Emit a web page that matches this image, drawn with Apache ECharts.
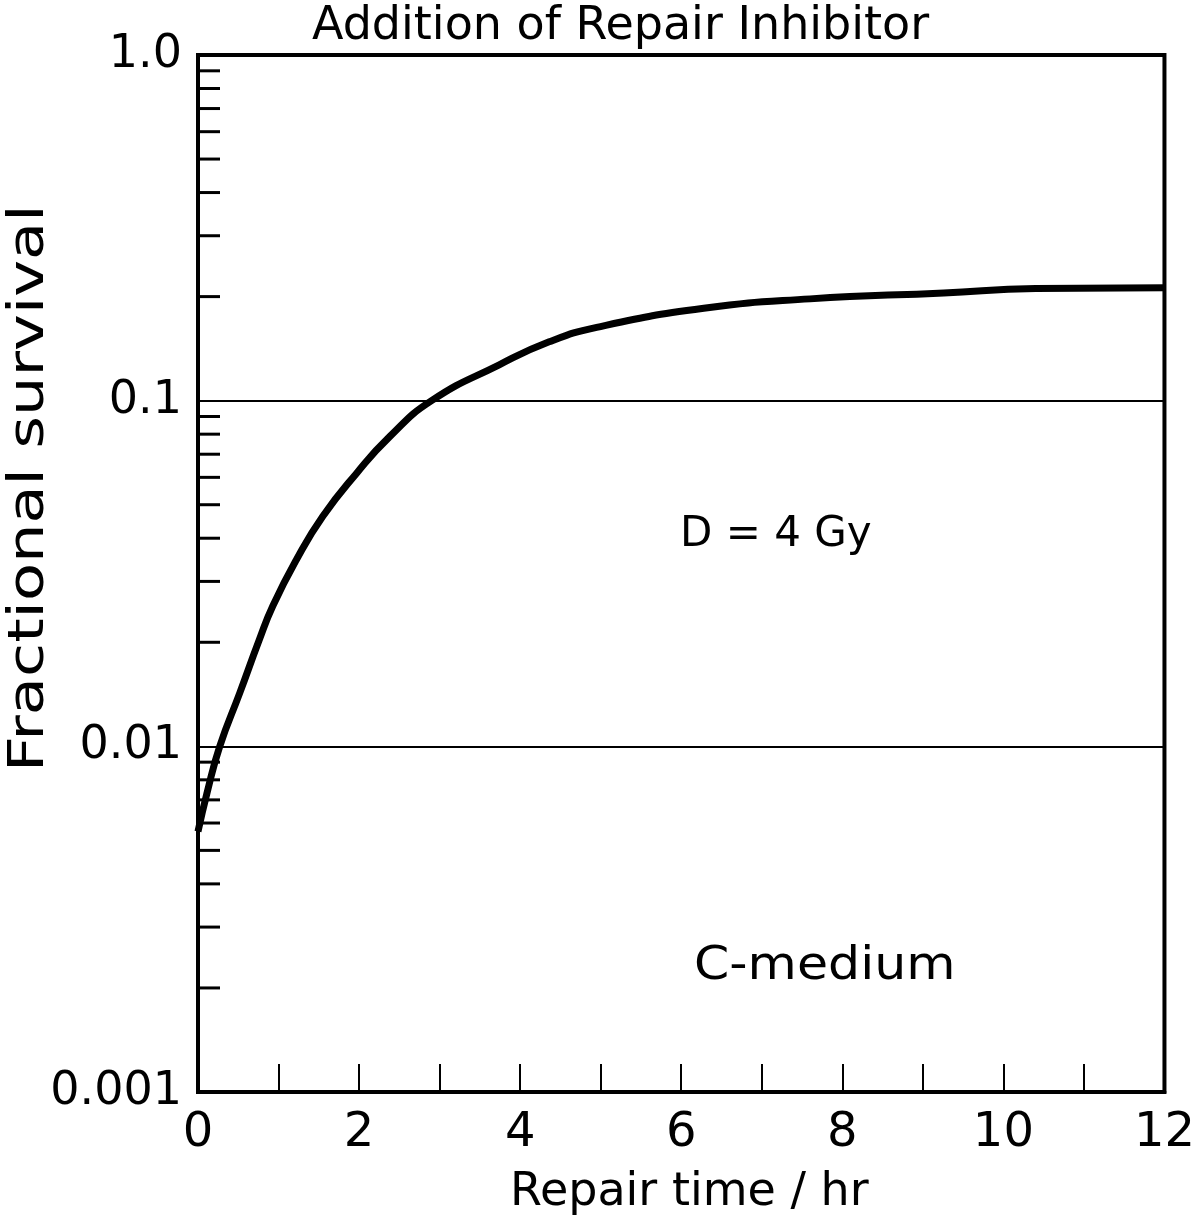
<!DOCTYPE html>
<html>
<head>
<meta charset="utf-8">
<script src="https://cdn.jsdelivr.net/npm/echarts@6/dist/echarts.min.js"></script>
<style>
  html, body { margin: 0; background: #fff; }
  #chart { width: 1198px; height: 1226px; }
</style>
</head>
<body>
<div id="chart"></div>
<script>
// values
var repairTime = [0, 0.11, 0.27, 0.52, 0.76, 0.93, 1.22, 1.55, 1.97, 2.38, 2.9, 3.74, 4.36, 4.95, 6.28, 7.6, 9.26, 10.4, 12];
var survival = [0.00567, 0.0073, 0.01, 0.0143, 0.0203, 0.0255, 0.0346, 0.0463, 0.0617, 0.0787, 0.1, 0.127, 0.148, 0.163, 0.185, 0.197, 0.205, 0.211, 0.212];

// minor ticks on the log axis (2..9 of each decade)
var minorTicks = [
    0.002, 0.003, 0.004, 0.005, 0.006, 0.007, 0.008, 0.009,
    0.02, 0.03, 0.04, 0.05, 0.06, 0.07, 0.08, 0.09,
    0.2, 0.3, 0.4, 0.5, 0.6, 0.7, 0.8, 0.9
];
var yTickLabels = ['0.001', '0.01', '0.1', '1.0'];
var xTickLabels = ['0', '', '2', '', '4', '', '6', '', '8', '', '10', '', '12'];

var FONT = 'DejaVu Sans';

var chart = echarts.init(document.getElementById('chart'));

var curveData = [];
for (var i = 0; i < repairTime.length; i++) {
    curveData.push([repairTime[i], survival[i]]);
}

var option = {
    backgroundColor: '#fff',
    animation: false,
    grid: {
        left: 198,
        right: 31,
        top: 55,
        bottom: 134,
        show: true,
        borderColor: '#000',
        borderWidth: 4
    },
    xAxis: {
        type: 'value',
        min: 0,
        max: 12,
        interval: 1,
        axisLine: { show: true, lineStyle: { color: '#000', width: 4 } },
        axisTick: { show: true, inside: true, length: 28, lineStyle: { color: '#000', width: 2 } },
        axisLabel: {
            margin: 18,
            color: '#000',
            fontFamily: FONT,
            fontSize: 48,
            formatter: function (v) {
                return xTickLabels[Math.round(v)] || '';
            }
        },
        splitLine: { show: false }
    },
    yAxis: {
        type: 'log',
        logBase: 10,
        min: 0.001,
        max: 1,
        interval: 1,
        axisLine: { show: true, lineStyle: { color: '#000', width: 4 } },
        axisTick: { show: false },
        axisLabel: {
            margin: 16,
            color: '#000',
            fontFamily: FONT,
            fontSize: 46,
            formatter: function (v) {
                var e = Math.round(Math.log10(v));
                return yTickLabels[e + 3];
            }
        },
        splitLine: { show: true, lineStyle: { color: '#000', width: 2 } }
    },
    series: [
        {
            type: 'line',
            data: curveData,
            smooth: 0.5,
            symbol: 'none',
            lineStyle: { color: '#000', width: 7 }
        },
        {
            // inward minor ticks on the y axis
            type: 'custom',
            data: minorTicks.map(function (v) { return [0, v]; }),
            renderItem: function (params, api) {
                var p = api.coord([api.value(0), api.value(1)]);
                return {
                    type: 'line',
                    shape: { x1: p[0], y1: p[1], x2: p[0] + 22, y2: p[1] },
                    style: { stroke: '#000', lineWidth: 3 }
                };
            },
            clip: false,
            silent: true
        }
    ],
    graphic: [
        {
            type: 'text',
            left: 312,
            top: 4,
            style: { text: 'Addition of Repair Inhibitor', font: '46px "DejaVu Sans"', fill: '#000' }
        },
        {
            type: 'text',
            x: 6,
            y: 772,
            rotation: Math.PI / 2,
            scaleX: 1.27,
            style: { text: 'Fractional survival', font: '49px "DejaVu Sans"', fill: '#000', textVerticalAlign: 'top' }
        },
        {
            type: 'text',
            left: 510,
            top: 1170,
            style: { text: 'Repair time / hr', font: '46px "DejaVu Sans"', fill: '#000' }
        },
        {
            type: 'text',
            left: 680,
            top: 514,
            style: { text: 'D = 4 Gy', font: '42px "DejaVu Sans"', fill: '#000' }
        },
        {
            type: 'text',
            x: 694,
            y: 944,
            scaleX: 1.1,
            style: { text: 'C-medium', font: '46px "DejaVu Sans"', fill: '#000', textVerticalAlign: 'top' }
        }
    ]
};

chart.setOption(option);
</script>
</body>
</html>
